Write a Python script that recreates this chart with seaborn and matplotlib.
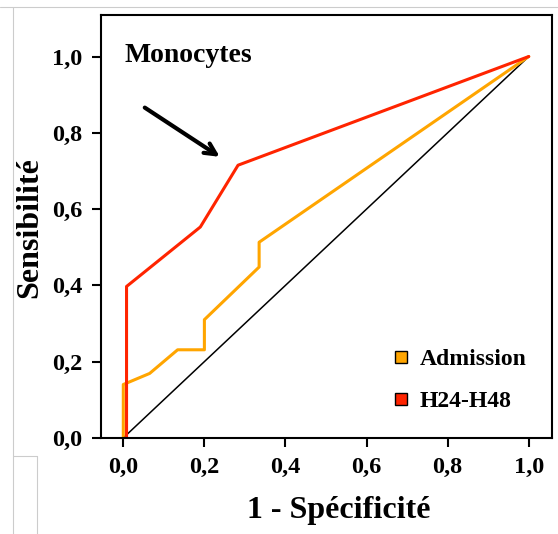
import matplotlib
matplotlib.use("Agg")
import matplotlib.pyplot as plt
from matplotlib.lines import Line2D
import seaborn as sns
import pandas as pd

# ROC curves, monocytes
admission_x = [0.0, 0.0, 0.065, 0.134, 0.200, 0.200, 0.335, 0.335, 1.0]
admission_y = [0.0, 0.14, 0.169, 0.231, 0.231, 0.31, 0.448, 0.513, 1.0]
h24_x = [0.008, 0.008, 0.190, 0.283, 1.0]
h24_y = [0.0, 0.397, 0.553, 0.715, 1.0]
ref_x = [0.0, 1.0]
ref_y = [0.0, 1.0]
series_names = ["Admission", "H24-H48"]
series_colors = ["#FFA500", "#FF2400"]
tick_values = [0.0, 0.2, 0.4, 0.6, 0.8, 1.0]
tick_labels = ["0,0", "0,2", "0,4", "0,6", "0,8", "1,0"]

sns.set_style("ticks")
plt.rcParams["font.family"] = ["Liberation Serif", "DejaVu Serif"]
plt.rcParams["font.weight"] = "bold"
for key in ["text.color", "axes.labelcolor", "xtick.color", "ytick.color",
            "xtick.labelcolor", "ytick.labelcolor"]:
    plt.rcParams[key] = "black"

fig = plt.figure(figsize=(5.58, 5.34), dpi=100)
ax = fig.add_axes([0.181, 0.180, 0.808, 0.792])

ref_df = pd.DataFrame({"x": ref_x, "y": ref_y})
adm_df = pd.DataFrame({"x": admission_x, "y": admission_y})
h24_df = pd.DataFrame({"x": h24_x, "y": h24_y})

sns.lineplot(data=ref_df, x="x", y="y", sort=False, estimator=None,
             color="black", linewidth=1.1, ax=ax)
sns.lineplot(data=adm_df, x="x", y="y", sort=False, estimator=None,
             color=series_colors[0], linewidth=2.2, ax=ax)
sns.lineplot(data=h24_df, x="x", y="y", sort=False, estimator=None,
             color=series_colors[1], linewidth=2.2, ax=ax)

ax.set_xlim(-0.055, 1.057)
ax.set_ylim(0.0, 1.109)
ax.set_xticks(tick_values)
ax.set_xticklabels(tick_labels)
ax.set_yticks(tick_values)
ax.set_yticklabels(tick_labels)
ax.tick_params(axis="both", direction="out", length=6.5, width=1.5,
               color="black", labelsize=17.5, pad=7)
for lab in ax.get_xticklabels() + ax.get_yticklabels():
    lab.set_fontweight("bold")
for sp in ax.spines.values():
    sp.set_visible(True)
    sp.set_linewidth(1.5)
    sp.set_color("black")

ax.set_xlabel("1 - Spécificité", fontsize=23, fontweight="bold", va="center")
ax.xaxis.set_label_coords(0.528, -0.1726)
ax.set_ylabel("Sensibilité", fontsize=23, fontweight="bold", va="center")
ax.yaxis.set_label_coords(-0.158, 0.4965)

ax.text(0.004, 0.986, "Monocytes", fontsize=20, fontweight="bold",
        ha="left", va="baseline")

ax.annotate("", xy=(0.238, 0.737), xytext=(0.053, 0.866),
            arrowprops=dict(arrowstyle="->,head_length=0.8,head_width=0.4",
                            color="black", linewidth=3.0,
                            shrinkA=0, shrinkB=0))

handles = [Line2D([0], [0], marker="s", linestyle="none", markersize=8,
                  markerfacecolor=c, markeredgecolor="black",
                  markeredgewidth=1.0) for c in series_colors]
leg = ax.legend(handles, series_names, loc="center left",
                bbox_to_anchor=(0.642, 0.136), frameon=False, borderpad=0,
                borderaxespad=0, handletextpad=0.35, labelspacing=0.85,
                handlelength=0.9,
                prop={"family": ["Liberation Serif"], "weight": "bold", "size": 17})

# light sheet grid lines around the chart
grey = "#cccccc"
fig.add_artist(Line2D([0, 1], [1 - 7 / 534, 1 - 7 / 534], color=grey, lw=0.8,
                      transform=fig.transFigure))
fig.add_artist(Line2D([13 / 558, 13 / 558], [0, 1 - 7 / 534], color=grey, lw=0.8,
                      transform=fig.transFigure))
fig.add_artist(Line2D([13 / 558, 37 / 558], [1 - 456 / 534, 1 - 456 / 534],
                      color=grey, lw=0.8, transform=fig.transFigure))
fig.add_artist(Line2D([37 / 558, 37 / 558], [0, 1 - 456 / 534], color=grey,
                      lw=0.8, transform=fig.transFigure))

fig.savefig("out.png", dpi=100)
